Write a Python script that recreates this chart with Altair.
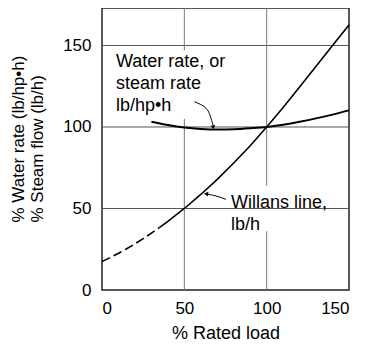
import altair as alt
import pandas as pd

# ---- data ----
willans_load = [0, 5, 10, 15, 20, 25, 30, 35, 40, 50, 60, 70, 80, 90, 100, 110, 120, 130, 140, 150]
willans_flow = [17.4, 19.9, 22.5, 25.3, 28.3, 31.5, 34.9, 38.4, 42.1, 50, 58.6, 67.9, 77.9, 88.5, 100,
                112, 124.5, 137.2, 150, 162.6]
dash_until = 35

rate_load = [30, 40, 50, 60, 70, 80, 90, 100, 110, 120, 130, 140, 150]
rate_pct = [103.2, 101.2, 99.7, 98.8, 98.4, 98.6, 99.2, 100, 101.4, 103.2, 105.3, 107.6, 110.2]

x_ticks = [0, 50, 100, 150]
y_ticks = [0, 50, 100, 150]
grid_h = [50, 100, 150]
grid_v_x = [50, 50, 100, 100]
grid_v_y1 = [0, 147, 0, 64]
grid_v_y2 = [105, 173, 36, 173]

label_text = ["Water rate, or", "steam rate", "lb/hp\u2022h", "Willans line,", "lb/h"]
label_x = [8.5, 8.5, 8.5, 78.3, 78.3]
label_y = [136.8, 123.3, 109.8, 50.3, 36.8]

arrow1_x = [56.1, 63.2, 66.2, 67.4]
arrow1_y = [115.5, 111.5, 105.3, 101]
arrow2_x = [63.8, 69.2, 75.3]
arrow2_y = [58.8, 57.7, 55.6]
head_x = [67.6, 63.2]
head_y = [99.8, 59.0]
head_shape = ["triangle-down", "triangle-left"]
head_angle = [346, 10]

FONT = "Liberation Sans"

# ---- tables ----
w = pd.DataFrame({"x": willans_load, "y": willans_flow})
w_dash = w[w.x <= dash_until]
w_solid = w[w.x >= dash_until]
r = pd.DataFrame({"x": rate_load, "y": rate_pct})
gh = pd.DataFrame({"y": grid_h})
gv = pd.DataFrame({"x": grid_v_x, "y": grid_v_y1, "y2": grid_v_y2})
lab = pd.DataFrame({"x": label_x, "y": label_y, "t": label_text})
a1 = pd.DataFrame({"x": arrow1_x, "y": arrow1_y})
a2 = pd.DataFrame({"x": arrow2_x, "y": arrow2_y})
heads = pd.DataFrame({"x": head_x, "y": head_y, "shape": head_shape, "angle": head_angle})

xs = alt.Scale(domain=[0, 150], nice=False, zero=False)
ys = alt.Scale(domain=[0, 173], nice=False, zero=False)
xaxis = alt.Axis(values=x_ticks, grid=False, ticks=False, domain=False, labelFontSize=17,
                 labelPadding=10, labelFont=FONT, labelColor="#000",
                 title="% Rated load", titleFont=FONT, titleFontSize=18, titleFontWeight="normal",
                 titleColor="#000", titleBaseline="alphabetic", titleY=48)
yaxis = alt.Axis(values=y_ticks, grid=False, ticks=False, domain=False, labelFontSize=17,
                 labelPadding=11, labelFont=FONT, labelColor="#000",
                 title=["% Water rate (lb/hp\u2022h)", "% Steam flow (lb/h)"],
                 titleFont=FONT, titleFontSize=17, titleFontWeight="normal", titleColor="#000",
                 titleAngle=270, titleAlign="left", titleBaseline="top", titleX=-92, titleY=214,
                 titleLineHeight=19)


def X(f="x"):
    return alt.X(f"{f}:Q", scale=xs, axis=xaxis)


def Y(f="y"):
    return alt.Y(f"{f}:Q", scale=ys, axis=yaxis)


hgrid = alt.Chart(gh).mark_rule(color="#555", strokeWidth=1).encode(
    y=Y(), x=alt.value(0), x2=alt.value(247))
vgrid = alt.Chart(gv).mark_rule(color="#777", strokeWidth=1).encode(
    x=X(), y=Y(), y2="y2:Q")
dash = alt.Chart(w_dash).mark_line(color="#000", strokeWidth=1.6, strokeDash=[9, 4]).encode(x=X(), y=Y())
solid = alt.Chart(w_solid).mark_line(color="#000", strokeWidth=1.6).encode(x=X(), y=Y())
rate = alt.Chart(r).mark_line(color="#000", strokeWidth=2, interpolate="monotone").encode(x=X(), y=Y())
labels = alt.Chart(lab).mark_text(align="left", baseline="alphabetic", font=FONT, fontSize=18,
                                  color="#000").encode(x=X(), y=Y(), text="t:N")
arr1 = alt.Chart(a1).mark_line(color="#000", strokeWidth=1, interpolate="natural").encode(x=X(), y=Y())
arr2 = alt.Chart(a2).mark_line(color="#000", strokeWidth=1, interpolate="natural").encode(x=X(), y=Y())
hd = alt.Chart(heads).mark_point(filled=True, color="#000", size=22, opacity=1).encode(
    x=X(), y=Y(), shape=alt.Shape("shape:N", scale=None, legend=None),
    angle=alt.Angle("angle:Q", scale=None))

chart = alt.layer(hgrid, vgrid, dash, solid, rate, labels, arr1, arr2, hd).properties(
    width=247, height=282,
    autosize=alt.AutoSizeParams(type="none"),
    padding={"left": 94, "top": 0, "right": 12, "bottom": 51},
).configure_view(stroke="#222", strokeWidth=1.5)

chart.save("out.html", embed_options={"renderer": "svg", "actions": False})
